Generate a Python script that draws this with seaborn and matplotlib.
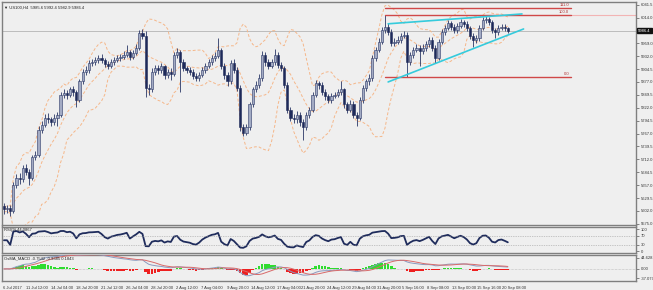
import numpy as np
import pandas as pd
import matplotlib
matplotlib.use("Agg")
import matplotlib.pyplot as plt
import matplotlib.transforms as mtransforms
import seaborn as sns

# ---------------- data (US100, H4) ----------------
first_open = 5612
closes = [5605, 5609, 5601, 5658, 5673, 5669, 5694, 5686, 5673, 5716,
          5722, 5775, 5786, 5801, 5797, 5792, 5801, 5807, 5850, 5854,
          5850, 5861, 5856, 5839, 5878, 5899, 5903, 5918, 5920, 5924,
          5929, 5924, 5916, 5912, 5920, 5924, 5929, 5931, 5935, 5941,
          5931, 5939, 5950, 5982, 5976, 5865, 5861, 5899, 5907, 5903,
          5910, 5892, 5899, 5895, 5935, 5941, 5920, 5907, 5903, 5899,
          5890, 5886, 5892, 5903, 5912, 5920, 5929, 5933, 5946, 5912,
          5892, 5878, 5918, 5903, 5865, 5780, 5769, 5780, 5829, 5861,
          5871, 5886, 5935, 5920, 5912, 5920, 5935, 5914, 5907, 5871,
          5818, 5801, 5797, 5807, 5792, 5780, 5807, 5818, 5850, 5875,
          5871, 5856, 5846, 5839, 5848, 5850, 5856, 5861, 5829, 5818,
          5831, 5807, 5801, 5839, 5865, 5878, 5886, 5929, 5946, 5963,
          5988, 5995, 5984, 5961, 5963, 5967, 5976, 5978, 5920, 5935,
          5946, 5950, 5944, 5950, 5958, 5967, 5950, 5929, 5963, 5984,
          5993, 6002, 5995, 5988, 5997, 6005, 6001, 5993, 5976, 5967,
          5971, 5993, 6010, 6012, 6005, 5988, 5984, 5993, 5995, 5991,
          5986]
highs = [5618, 5615, 5614, 5664, 5680, 5682, 5700, 5703, 5692, 5722,
         5730, 5782, 5794, 5808, 5810, 5803, 5808, 5813, 5856, 5862,
         5860, 5867, 5868, 5860, 5884, 5905, 5910, 5924, 5927, 5931,
         5934, 5936, 5928, 5922, 5926, 5930, 5935, 5937, 5943, 5956,
         5946, 5945, 5957, 5988, 5990, 5985, 5872, 5906, 5913, 5914,
         5917, 5914, 5905, 5906, 5941, 5950, 5946, 5925, 5912, 5909,
         5904, 5896, 5898, 5909, 5918, 5926, 5935, 5940, 5971, 5950,
         5917, 5898, 5924, 5925, 5908, 5870, 5787, 5788, 5835, 5867,
         5878, 5893, 5942, 5940, 5926, 5927, 5948, 5940, 5920, 5912,
         5876, 5824, 5808, 5814, 5812, 5798, 5813, 5824, 5856, 5882,
         5880, 5876, 5862, 5851, 5854, 5856, 5862, 5878, 5865, 5834,
         5838, 5836, 5812, 5845, 5871, 5884, 5893, 5935, 5952, 5970,
         5995, 6020, 6002, 5990, 5970, 5974, 5982, 5986, 5983, 5941,
         5952, 5957, 5956, 5957, 5964, 5973, 5972, 5955, 5969, 5990,
         5999, 6010, 6008, 6000, 6003, 6011, 6010, 6006, 5997, 5981,
         5978, 5999, 6016, 6018, 6016, 6009, 5993, 5999, 6001, 6000,
         5994]
lows = [5596, 5598, 5592, 5598, 5650, 5660, 5664, 5678, 5658, 5668,
        5710, 5718, 5768, 5780, 5790, 5784, 5785, 5782, 5802, 5843,
        5841, 5845, 5848, 5824, 5834, 5872, 5892, 5897, 5911, 5914,
        5918, 5917, 5908, 5904, 5906, 5914, 5919, 5922, 5926, 5930,
        5924, 5926, 5934, 5945, 5968, 5845, 5850, 5855, 5892, 5895,
        5896, 5884, 5886, 5881, 5890, 5929, 5856, 5900, 5896, 5892,
        5883, 5878, 5880, 5887, 5897, 5906, 5914, 5922, 5928, 5905,
        5884, 5868, 5872, 5896, 5858, 5772, 5762, 5764, 5775, 5823,
        5855, 5865, 5880, 5912, 5905, 5906, 5914, 5907, 5900, 5864,
        5810, 5794, 5789, 5790, 5784, 5754, 5774, 5800, 5812, 5845,
        5863, 5849, 5839, 5832, 5833, 5842, 5844, 5850, 5822, 5810,
        5812, 5800, 5782, 5795, 5833, 5858, 5871, 5880, 5922, 5940,
        5957, 5982, 5977, 5954, 5954, 5957, 5961, 5970, 5888, 5913,
        5929, 5940, 5910, 5937, 5943, 5951, 5943, 5918, 5923, 5957,
        5978, 5987, 5988, 5981, 5982, 5991, 5994, 5986, 5969, 5951,
        5961, 5965, 5987, 6003, 5998, 5981, 5971, 5978, 5987, 5985,
        5982]

price_ticks = [6041.5, 6014.0, 5959.0, 5932.0, 5904.5, 5877.0, 5849.5,
               5822.0, 5794.5, 5767.0, 5739.5, 5712.0, 5684.5, 5657.0,
               5629.5, 5602.0, 5575.0]
date_labels = ["6 Jul 2017", "11 Jul 12:00", "14 Jul 04:00", "18 Jul 20:00",
               "21 Jul 12:00", "26 Jul 04:00", "28 Jul 20:00", "2 Aug 12:00",
               "7 Aug 04:00", "9 Aug 20:00", "14 Aug 12:00", "17 Aug 04:00",
               "21 Aug 20:00", "24 Aug 12:00", "29 Aug 04:00", "31 Aug 20:00",
               "5 Sep 16:00", "8 Sep 08:00", "13 Sep 00:00", "15 Sep 16:00",
               "20 Sep 08:00"]
date_pos = [-0.6, 6.7, 14.6, 22.6, 30.5, 38.5, 46.4, 54.4, 62.3, 70.3, 78.2,
            86.2, 94.1, 102.1, 110.0, 118.0, 125.9, 133.9, 141.8, 149.8, 157.7]

last_price = 5986.4
fib_low, fib_high = 5888.0, 6020.0
fib_levels = [0.0, 100.0, 111.0]
fib_x = [121, 180]
trend_up_x, trend_up_y = [122, 164.5], [6001, 6022]
trend_lo_x, trend_lo_y = [122, 165.0], [5877, 5990]
rsi_ticks = [100, 70, 30, 0]
macd_ticks = [44.628, 0.0, -37.079]
macd_tick_labels = ["44.628", "0.00", "-37.079"]

# ---------------- derived indicators ----------------
opens = [first_open] + closes[:-1]
n = len(closes)
idx = np.arange(n)
s = pd.Series(closes, dtype=float)
mid = s.rolling(10, min_periods=1).mean()
sd = s.rolling(10, min_periods=2).std().bfill()
bb = pd.DataFrame({"i": idx, "mid": mid, "up": mid + 2 * sd, "lo": mid - 2 * sd})

d = s.diff().fillna(0)
p = 5
up = d.clip(lower=0).ewm(alpha=1 / p, adjust=False).mean()
dn = (-d.clip(upper=0)).ewm(alpha=1 / p, adjust=False).mean()
rsi = (100 - 100 / (1 + up / dn.replace(0, np.nan))).fillna(50)
macd = s.ewm(span=11, adjust=False).mean() - s.ewm(span=24, adjust=False).mean()
signal = macd.rolling(6, min_periods=1).mean()
osma = (macd - signal) * 1.5
ind = pd.DataFrame({"i": idx, "rsi": rsi, "macd": macd, "signal": signal})

# ---------------- figure ----------------
sns.set_style("white")
plt.rcParams["font.family"] = ["Liberation Sans", "DejaVu Sans"]
BG = "#efefef"
SP = "#7f7f7f"
FS = 3.0
fig = plt.figure(figsize=(6.53, 2.9), dpi=100, facecolor=BG)
W, H = 653, 290

def ax_at(x0, y0, x1, y1):
    a = fig.add_axes([x0 / W, 1 - y1 / H, (x1 - x0) / W, (y1 - y0) / H])
    a.set_facecolor(BG)
    for sp in a.spines.values():
        sp.set_color(SP)
        sp.set_linewidth(1.0)
    return a

ax = ax_at(2, 2, 636, 224.5)
ax_r = ax_at(2, 226.5, 636, 253)
ax_m = ax_at(2, 255, 636, 281)
XL = (-0.6, 200.7)
for a in (ax, ax_r, ax_m):
    a.set_xlim(*XL)
    a.yaxis.tick_right()
    a.tick_params(axis="y", length=2, width=0.5, color="#555", labelsize=FS,
                  labelcolor="#333", pad=1.2)
    a.tick_params(axis="x", length=0)
    a.set_xticks([])

# candles
o = np.array(opens, float); c = np.array(closes, float)
hi = np.array(highs, float); lo = np.array(lows, float)
bull = c >= o
ax.vlines(idx, lo, hi, color="#2a3766", lw=0.6, zorder=3)
body_h = np.where(np.abs(c - o) < 1.2, 1.2, np.abs(c - o))
bottoms = np.minimum(o, c)
ax.bar(idx[bull], body_h[bull], bottom=bottoms[bull], width=0.7,
       color="#a3abc4", edgecolor="#2a3766", linewidth=0.4, zorder=4)
ax.bar(idx[~bull], body_h[~bull], bottom=bottoms[~bull], width=0.7,
       color="#1e2a5a", edgecolor="#1e2a5a", linewidth=0.4, zorder=4)

# Bollinger bands
for col in ("up", "mid", "lo"):
    sns.lineplot(data=bb, x="i", y=col, ax=ax, color="#f5b78a", lw=0.7,
                 linestyle=(0, (3, 2)), zorder=2)

# current price line
ax.axhline(last_price, color="#b4b4b4", lw=0.6, zorder=1)

# fibo levels
for lv in fib_levels:
    yv = fib_low + (fib_high - fib_low) * lv / 100.0
    ax.plot(fib_x, [yv, yv], color="#d04848", lw=1.0, zorder=5)
    ax.text(fib_x[1] - 0.5, yv + 1.5, f"{lv:.1f}", color="#b03030",
            fontsize=FS, ha="right", va="bottom", zorder=6)
ax.plot([fib_x[1], XL[1]], [fib_high, fib_high], color="#f2b4b4", lw=0.8, zorder=1)

# trend lines
ax.plot(trend_up_x, trend_up_y, color="#35cbdc", lw=1.2, zorder=6)
ax.plot(trend_lo_x, trend_lo_y, color="#35cbdc", lw=1.2, zorder=6)

ax.set_ylim(5573, 6047.5)
ax.set_yticks(price_ticks)
ax.set_yticklabels([f"{v:.1f}" for v in price_ticks])
ax.set_xlabel(""); ax.set_ylabel("")
tr = mtransforms.blended_transform_factory(ax.transAxes, ax.transData)
ax.text(1.0035, last_price, f"{last_price:.1f}", transform=tr, fontsize=FS,
        color="white", va="center", ha="left", zorder=10,
        bbox=dict(boxstyle="square,pad=0.2", fc="#111111", ec="#111111"))
ax.text(0.003, 0.985, "\u25bc US100,H4  5985.6 5992.4 5982.9 5986.4",
        transform=ax.transAxes, fontsize=FS, color="#222", va="top", ha="left")

# RSI panel
sns.lineplot(data=ind, x="i", y="rsi", ax=ax_r, color="#1f2c5c", lw=1.3)
for lv in (70, 30):
    ax_r.axhline(lv, color="#9a9a9a", lw=0.5, ls=(0, (1, 1.5)))
ax_r.set_ylim(-9, 113.6)
ax_r.set_yticks(rsi_ticks)
ax_r.set_yticklabels([str(v) for v in rsi_ticks])
ax_r.set_xlabel(""); ax_r.set_ylabel("")
ax_r.text(0.003, 0.93, "RSI(9) 44.0867", transform=ax_r.transAxes,
          fontsize=FS, color="#222", va="top", ha="left", zorder=10)

# MACD panel
hist_col = np.where(osma.values >= 0, "#2fdc2f", "#ee2020")
ax_m.bar(idx, osma.values, width=0.85, color=hist_col, linewidth=0, zorder=2)
ax_m.axhline(0, color="#9a9a9a", lw=0.4, ls=(0, (1, 1.5)), zorder=1)
sns.lineplot(data=ind, x="i", y="macd", ax=ax_m, color="#8a9ac0", lw=0.7, zorder=3)
sns.lineplot(data=ind, x="i", y="signal", ax=ax_m, color="#d86a6a", lw=0.7, zorder=3)
ax_m.set_ylim(-48.8, 56.3)
ax_m.set_yticks(macd_ticks)
ax_m.set_yticklabels(macd_tick_labels)
ax_m.set_ylabel("")
ax_m.text(0.003, 0.95, "OsMA_MACD -0.7542 -0.9385 0.1843", transform=ax_m.transAxes,
          fontsize=FS, color="#222", va="top", ha="left", zorder=10)
ax_m.set_xticks(date_pos)
ax_m.set_xticklabels(date_labels, ha="left")
ax_m.tick_params(axis="x", length=2.5, width=0.5, color="#555", labelsize=FS,
                 labelcolor="#333", pad=1, direction="out")
for lab in ax_m.get_xticklabels():
    lab.set_transform(lab.get_transform() + mtransforms.ScaledTranslation(1.2 / 100, 0, fig.dpi_scale_trans))
ax_m.set_xlabel("")

fig.savefig("out.png", dpi=100, facecolor=BG)
